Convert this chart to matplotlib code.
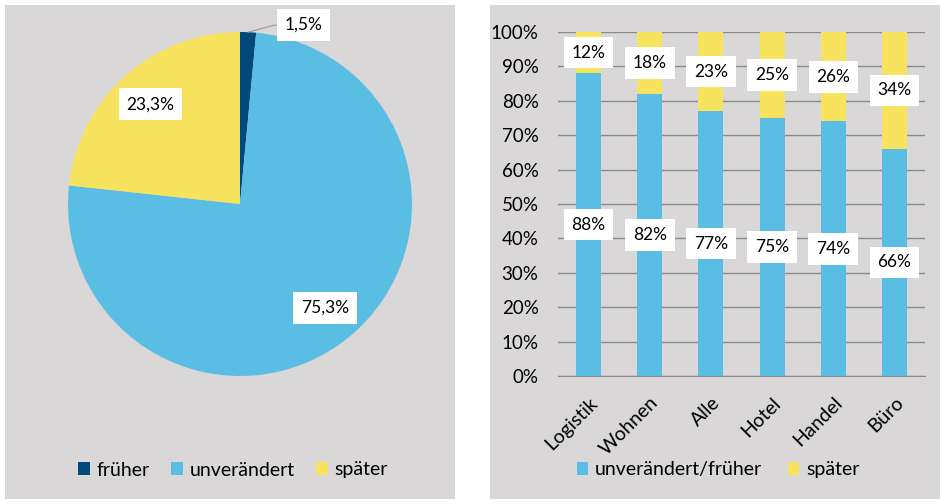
import numpy as np
import matplotlib.pyplot as plt
from matplotlib.patches import Rectangle, Patch

# pie data
pie_labels = ['früher', 'unverändert', 'später']
pie_values = [1.5, 75.3, 23.3]
pie_texts = ['1,5%', '75,3%', '23,3%']

# stacked bars
categories = ['Logistik', 'Wohnen', 'Alle', 'Hotel', 'Handel', 'Büro']
unchanged = [88, 82, 77, 75, 74, 66]
later = [12, 18, 23, 25, 26, 34]
yticks = [0, 10, 20, 30, 40, 50, 60, 70, 80, 90, 100]

c_dark = '#00497A'
c_blue = '#5ABDE3'
c_yellow = '#F7E35E'
c_bg = '#D9D7D8'

plt.rcParams['font.family'] = ['Lato', 'DejaVu Sans']

W, H = 945, 504
fig = plt.figure(figsize=(W / 100, H / 100), dpi=100)


def box(x0, y0, x1, y1):
    # pixel box (top-left origin) -> figure fraction
    return [x0 / W, 1 - y1 / H, (x1 - x0) / W, (y1 - y0) / H]


# grey panels
for x0, x1 in [(5, 455), (490, 940)]:
    fig.patches.append(Rectangle((x0 / W, 1 - 499 / H), (x1 - x0) / W, 494 / H,
                                 transform=fig.transFigure, facecolor=c_bg,
                                 edgecolor='none', zorder=-5))

bbox_w = dict(boxstyle='square,pad=0.45', facecolor='white', edgecolor='none')
lab_fs = 12.5

# ---- pie ----
ax1 = fig.add_axes(box(68, 32, 412, 376))
wedges, _ = ax1.pie(pie_values, colors=[c_dark, c_blue, c_yellow], startangle=90,
                    counterclock=False, radius=1)
ax1.set_xlim(-1, 1)
ax1.set_ylim(-1, 1)
ax1.set_aspect('equal')
ax1.axis('off')

for i, w in enumerate(wedges):
    ang = np.deg2rad((w.theta1 + w.theta2) / 2)
    if i == 0:
        ax1.annotate(pie_texts[i], xy=(np.cos(ang), np.sin(ang)),
                     xytext=(0.37, 1.04), ha='center', va='center', fontsize=lab_fs,
                     bbox=bbox_w,
                     arrowprops=dict(arrowstyle='-', color='#999999', lw=0.8,
                                     shrinkA=0, shrinkB=0,
                                     connectionstyle='angle,angleA=0,angleB=15,rad=0'))
    else:
        ax1.text(0.78 * np.cos(ang), 0.78 * np.sin(ang), pie_texts[i],
                 ha='center', va='center', fontsize=lab_fs, bbox=bbox_w)

fig.legend([Patch(facecolor=c) for c in [c_dark, c_blue, c_yellow]], pie_labels,
           loc='center', bbox_to_anchor=(233 / W, 1 - 470 / H), ncol=3,
           frameon=False, fontsize=14, handlelength=0.6, handleheight=0.6,
           handletextpad=0.35, columnspacing=1.1)

# ---- stacked bars ----
ax2 = fig.add_axes(box(558, 32, 925, 376))
ax2.set_facecolor('none')
x = np.arange(len(categories))
ax2.bar(x, unchanged, width=0.41, color=c_blue, zorder=2)
ax2.bar(x, later, width=0.41, bottom=unchanged, color=c_yellow, zorder=2)
ax2.set_xlim(-0.5, len(categories) - 0.5)
ax2.set_ylim(0, 100)
ax2.set_yticks(yticks)
ax2.set_yticklabels([f'{v}%' for v in yticks], fontsize=13.5)
ax2.set_xticks(x)
ax2.set_xticklabels(categories, rotation=45, ha='right', rotation_mode='anchor',
                    fontsize=14)
ax2.tick_params(axis='y', length=0, pad=14)
ax2.tick_params(axis='x', length=0, pad=13)
ax2.grid(axis='y', color='#8C8C8C', lw=1, zorder=1)
for s in ['top', 'right', 'left']:
    ax2.spines[s].set_visible(False)
ax2.spines['bottom'].set_color('#8C8C8C')

for i in range(len(categories)):
    ax2.text(x[i], unchanged[i] / 2, f'{unchanged[i]}%', ha='center', va='center',
             fontsize=lab_fs, bbox=bbox_w, zorder=3)
    ax2.text(x[i], unchanged[i] + later[i] / 2, f'{later[i]}%', ha='center',
             va='center', fontsize=lab_fs, bbox=bbox_w, zorder=3)

fig.legend([Patch(facecolor=c) for c in [c_blue, c_yellow]],
           ['unverändert/früher', 'später'],
           loc='center', bbox_to_anchor=(718 / W, 1 - 470 / H), ncol=2,
           frameon=False, fontsize=14, handlelength=0.6, handleheight=0.6,
           handletextpad=0.35, columnspacing=1.3)

fig.savefig('out.png', dpi=100)
